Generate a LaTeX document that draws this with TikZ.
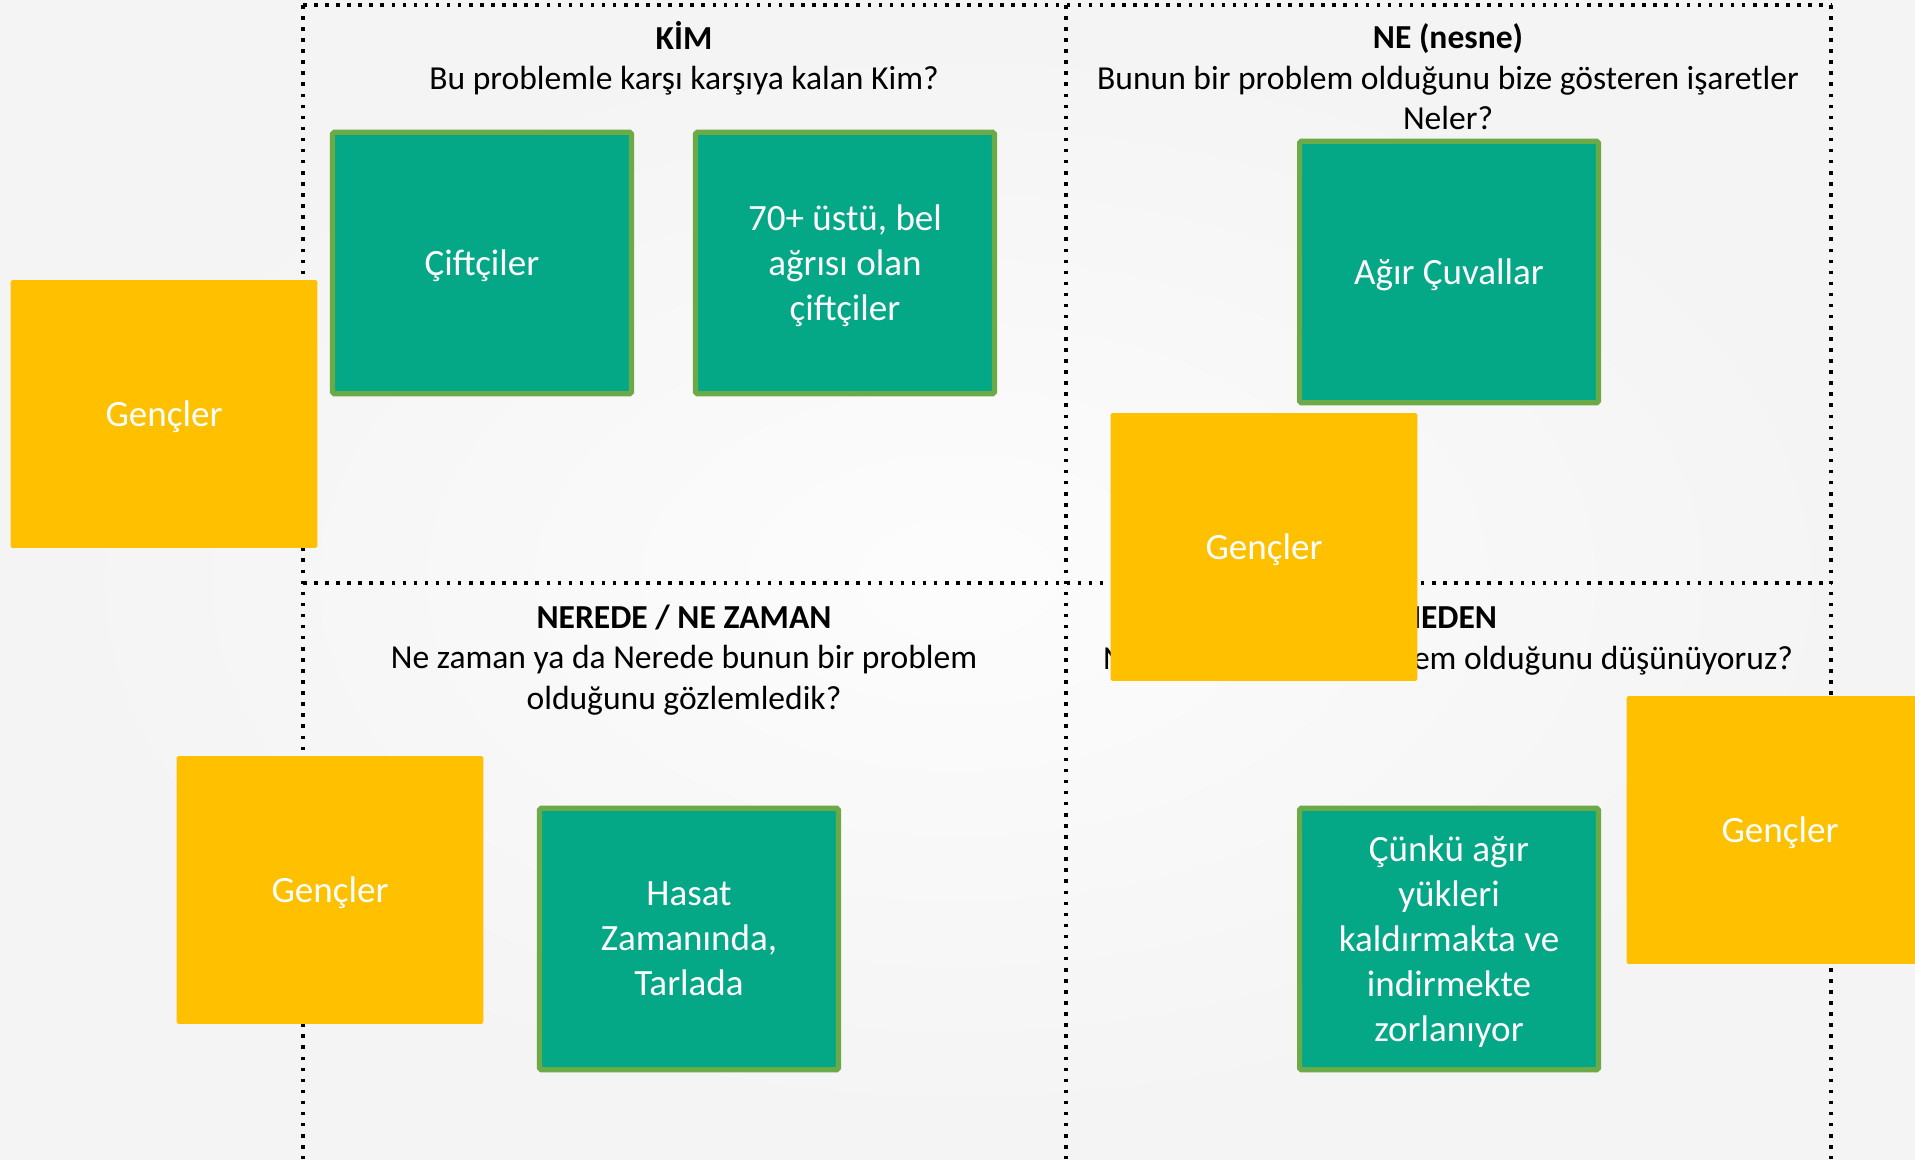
\documentclass[tikz,border=0pt]{standalone}
\usepackage{fontspec}
\setmainfont{Carlito}
\definecolor{kutuyesil}{RGB}{4,167,134}
\definecolor{kenaryesil}{RGB}{108,170,72}
\definecolor{kutusari}{RGB}{255,192,0}
\tikzset{
	yesilkutu/.style={fill=kutuyesil, draw=kenaryesil, line width=2.9pt, rounded corners=1pt,
		minimum width=5.98cm, minimum height=5.23cm, inner sep=0pt, text depth=-2.5pt,
		text=white, align=center, font=\fontsize{21.1}{25.6}\selectfont},
	sarikutu/.style={fill=kutusari, rounded corners=1pt,
		minimum width=6.14cm, minimum height=5.36cm, inner sep=0pt, text depth=-2.5pt,
		text=white, align=center, font=\fontsize{21.1}{25.6}\selectfont},
	baslik/.style={align=center, font=\fontsize{19.1}{23}\selectfont},
	noktali/.style={line width=2pt, dash pattern=on 2pt off 4.3pt}
}
\begin{document}
\begin{tikzpicture}[x=0.02cm,y=-0.02cm]
	\useasboundingbox (0,0) rectangle (1915,1159);
	\shade [inner color=gray!2, outer color=gray!9] (0,0) rectangle (1915,1159);

	% dort bolme
	\draw [noktali] (303,5) -- (1831,5);
	\draw [noktali] (303,583) -- (1831,583);
	\draw [noktali] (303,5) -- (303,1159);
	\draw [noktali] (1066,5) -- (1066,1159);
	\draw [noktali] (1831,5) -- (1831,1159);

	% basliklar
	\node [baslik] (kim) at (684,58) {\textbf{KİM}\\Bu problemle karşı karşıya kalan Kim?};
	\node [baslik] (ne) at (1448,77) {\textbf{NE (nesne)}\\Bunun bir problem olduğunu bize gösteren işaretler\\Neler?};
	\node [baslik] (nerede) at (684,660) {\textbf{NEREDE / NE ZAMAN}\\Ne zaman ya da Nerede bunun bir problem\\olduğunu gözlemledik?};
	\node [baslik] (neden) at (1448,641) {\textbf{NEDEN}\\Neden bunun bir problem olduğunu düşünüyoruz?};

	% yesil kartlar
	\node [yesilkutu] (ciftci) at (482,263) {Çiftçiler};
	\node [yesilkutu] (yasli) at (845,263) {70+ üstü, bel\\ağrısı olan\\çiftçiler};
	\node [yesilkutu] (cuval) at (1449,272) {Ağır Çuvallar};
	\node [yesilkutu] (hasat) at (689,939) {Hasat\\Zamanında,\\Tarlada};
	\node [yesilkutu] (cunku) at (1449,939) {Çünkü ağır\\yükleri\\kaldırmakta ve\\indirmekte\\zorlanıyor};

	% sari kartlar
	\node [sarikutu] (genc1) at (164,414) {Gençler};
	\node [sarikutu] (genc2) at (1264,547) {Gençler};
	\node [sarikutu] (genc3) at (330,890) {Gençler};
	\node [sarikutu] (genc4) at (1780,830) {Gençler};
\end{tikzpicture}
\end{document}
